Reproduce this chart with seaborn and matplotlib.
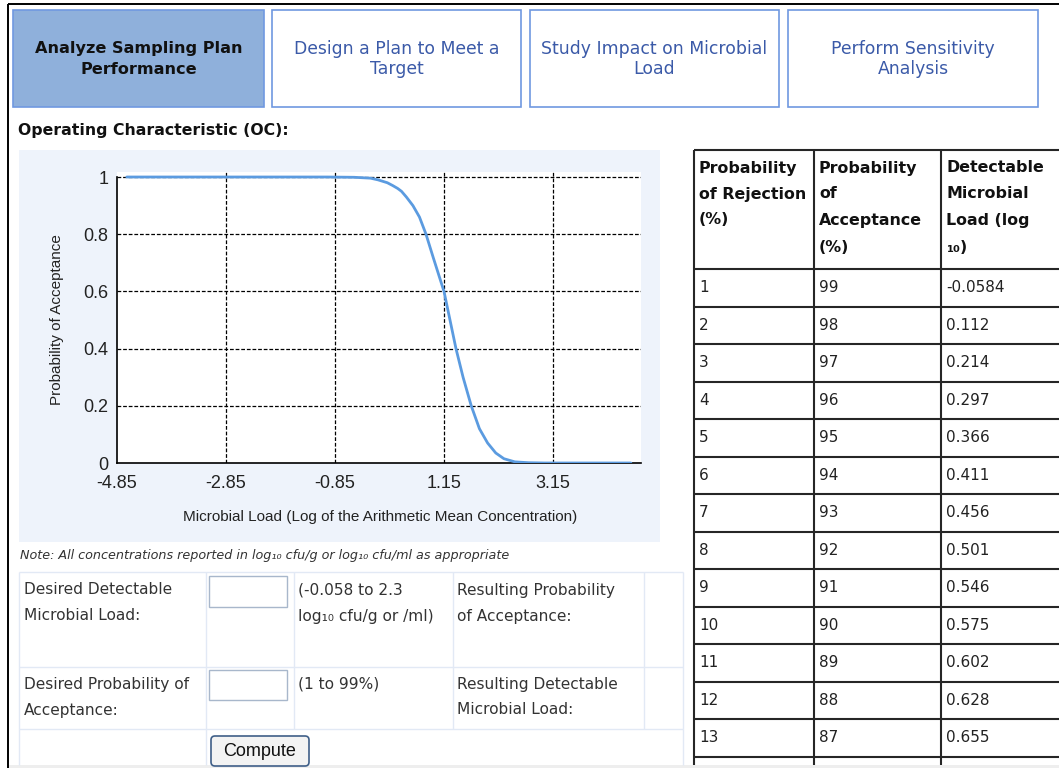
import matplotlib
matplotlib.use("Agg")
import matplotlib.pyplot as plt
import seaborn as sns
from matplotlib.patches import Rectangle, FancyBboxPatch

# OC curve
load_x = [-4.67, -2.0, -1.0, -0.5, -0.2, -0.06, 0.11, 0.21, 0.30, 0.37, 0.46, 0.58, 0.70,
          0.82, 0.95, 1.05, 1.15, 1.26, 1.37, 1.50, 1.65, 1.80, 1.95, 2.10, 2.25, 2.45,
          2.70, 3.00, 4.58]
p_accept = [1.0, 1.0, 1.0, 0.999, 0.996, 0.99, 0.98, 0.97, 0.96, 0.95, 0.93, 0.90, 0.86,
            0.80, 0.72, 0.66, 0.60, 0.50, 0.40, 0.30, 0.20, 0.12, 0.07, 0.035, 0.015, 0.004,
            0.001, 0.0, 0.0]

x_ticks = [-4.85, -2.85, -0.85, 1.15, 3.15]
x_tick_labels = ['-4.85', '-2.85', '-0.85', '1.15', '3.15']
y_ticks = [0, 0.2, 0.4, 0.6, 0.8, 1.0]
y_tick_labels = ['0', '0.2', '0.4', '0.6', '0.8', '1']

# table on the right
reject_pct = [1, 2, 3, 4, 5, 6, 7, 8, 9, 10, 11, 12, 13]
accept_pct = [99, 98, 97, 96, 95, 94, 93, 92, 91, 90, 89, 88, 87]
detect_load = ['-0.0584', '0.112', '0.214', '0.297', '0.366', '0.411', '0.456',
               '0.501', '0.546', '0.575', '0.602', '0.628', '0.655']

tabs = ['Analyze Sampling Plan\nPerformance', 'Design a Plan to Meet a\nTarget',
        'Study Impact on Microbial\nLoad', 'Perform Sensitivity\nAnalysis']

sns.set_style("white")
plt.rcParams['font.family'] = ['DejaVu Sans']

W, H = 1059, 768
fig = plt.figure(figsize=(W / 100, H / 100), dpi=100)

# page layer in pixel coords
bg = fig.add_axes([0, 0, 1, 1])
bg.set_xlim(0, W)
bg.set_ylim(H, 0)
bg.axis('off')

def box(x0, y0, x1, y1, fc='none', ec='none', lw=1.0, z=1):
    bg.add_patch(Rectangle((x0, y0), x1 - x0, y1 - y0, facecolor=fc, edgecolor=ec, lw=lw, zorder=z))

def hline(y, x0, x1, c, lw=1.0):
    bg.plot([x0, x1], [y, y], color=c, lw=lw, solid_capstyle='butt')

def vline(x, y0, y1, c, lw=1.0):
    bg.plot([x, x], [y0, y1], color=c, lw=lw, solid_capstyle='butt')

# page border + bottom band
hline(4, 8, W, 'black', 1.4)
vline(8, 4, H, 'black', 1.4)
box(9, 765, W, H, fc='#eeeeee')

# tabs
tab_x = [(13, 264), (272, 521), (530, 779), (788, 1038)]
for i, (label, (x0, x1)) in enumerate(zip(tabs, tab_x)):
    active = i == 0
    box(x0, 10, x1, 107, fc='#8fb0db' if active else 'white', ec='#7098e0', lw=1.2)
    l1, l2 = label.split('\n')
    for yy, t in ((49, l1), (69, l2)):
        bg.text((x0 + x1) / 2, yy, t, ha='center', va='center',
                fontsize=11.6 if active else 12.4,
                fontweight='bold' if active else 'normal',
                color='#111111' if active else '#3b5aa8')

bg.text(18, 130, 'Operating Characteristic (OC):', ha='left', va='center',
        fontsize=11.3, fontweight='bold', color='#111111')

# chart panel
box(19, 150, 660, 542, fc='#eef3fb')

bg.text(20, 556, 'Note: All concentrations reported in log\u2081\u2080 cfu/g or log\u2081\u2080 cfu/ml as appropriate',
        ha='left', va='center', fontsize=9.2, style='italic', color='#333333')

# form grid
gc = '#e2e9f5'
for yy in (572, 667, 729):
    hline(yy, 19, 683, gc)
for xx in (19, 206, 294, 453, 644, 683):
    vline(xx, 572, 729, gc)
for xx in (19, 206, 683):
    vline(xx, 729, 765, gc)

box(209, 576, 287, 607, fc='white', ec='#a8b7cb')
box(209, 670, 287, 700, fc='white', ec='#a8b7cb')
bg.add_patch(FancyBboxPatch((211, 736), 98, 30, boxstyle='round,pad=0,rounding_size=4',
                            facecolor='#f3f3f3', edgecolor='#3f5f88', lw=1.2, zorder=2))
bg.text(260, 751, 'Compute', ha='center', va='center', fontsize=13,
        family='Liberation Sans', color='#111111', zorder=3)

form_text = [
    (24, 590, 'Desired Detectable'), (24, 616, 'Microbial Load:'),
    (298, 590, '(-0.058 to 2.3'), (298, 616, 'log\u2081\u2080 cfu/g or /ml)'),
    (457, 590, 'Resulting Probability'), (457, 616, 'of Acceptance:'),
    (24, 684, 'Desired Probability of'), (24, 710, 'Acceptance:'),
    (298, 684, '(1 to 99%)'),
    (457, 684, 'Resulting Detectable'), (457, 710, 'Microbial Load:'),
]
for xx, yy, t in form_text:
    bg.text(xx, yy, t, ha='left', va='center', fontsize=11.1, color='#333333')

# results table
tc = '#262626'
col_x = [694, 814, 941]
row_top = 269
row_h = 37.5
hline(150, 694, W, tc, 1.5)
hline(row_top, 694, W, tc, 1.5)
for k in range(1, len(reject_pct) + 1):
    hline(row_top + k * row_h, 694, W, tc, 1.5)
for xx in col_x:
    vline(xx, 150, 765, tc, 1.5)

headers = [['Probability', 'of Rejection', '(%)'],
           ['Probability', 'of', 'Acceptance', '(%)'],
           ['Detectable', 'Microbial', 'Load (log', '\u2081\u2080)']]
head_y = [168, 194, 220, 247]
for xx, lines in zip(col_x, headers):
    for yy, t in zip(head_y, lines):
        bg.text(xx + 5, yy, t, ha='left', va='center', fontsize=11.4,
                fontweight='bold', color='#111111')

for k, (r, a, d) in enumerate(zip(reject_pct, accept_pct, detect_load)):
    yy = row_top + (k + 0.5) * row_h
    for xx, t in zip(col_x, (str(r), str(a), d)):
        bg.text(xx + 5, yy, t, ha='left', va='center', fontsize=11, color='#222222')

# the OC chart itself
px_left, px_right, px_top, px_bot = 117, 641, 172, 463
ax = fig.add_axes([px_left / W, (H - px_bot) / H, (px_right - px_left) / W, (px_bot - px_top) / H])
ax.set_facecolor('white')
sns.lineplot(x=load_x, y=p_accept, ax=ax, color='#5b9be0', lw=2.0, zorder=5)
ax.set_xlim(-4.85, 4.765)
ax.set_ylim(0, 1.0175)
ax.set_xticks(x_ticks)
ax.set_xticklabels(x_tick_labels)
ax.set_yticks(y_ticks)
ax.set_yticklabels(y_tick_labels)
for v in x_ticks[1:]:
    ax.axvline(v, color='black', lw=0.9, ls=(0, (3, 1.5)), zorder=1)
for v in y_ticks[1:]:
    ax.axhline(v, color='black', lw=0.9, ls=(0, (3, 1.5)), zorder=1)
for s in ('top', 'right'):
    ax.spines[s].set_visible(False)
ax.spines['left'].set_bounds(0, 1)
for s in ('left', 'bottom'):
    ax.spines[s].set_color('black')
    ax.spines[s].set_linewidth(1.2)
ax.tick_params(axis='both', direction='out', length=5, width=1, color='black',
               labelsize=13, labelcolor='#222222')
ax.tick_params(axis='y', pad=1)
ax.tick_params(axis='x', pad=4)
for lab in ax.get_xticklabels() + ax.get_yticklabels():
    lab.set_family('Liberation Sans')

ax.set_xlabel('Microbial Load (Log of the Arithmetic Mean Concentration)',
              family='Liberation Sans', fontsize=11, color='#222222')
ax.set_ylabel('Probability of Acceptance', family='Liberation Sans', fontsize=11, color='#222222')
ax.xaxis.set_label_coords((380 - px_left) / (px_right - px_left), -(517 - px_bot) / (px_bot - px_top))
ax.yaxis.set_label_coords((57 - px_left) / (px_right - px_left), (px_bot - 320) / (px_bot - px_top))
ax.xaxis.label.set_va('center')
ax.yaxis.label.set_va('center')

fig.savefig('out.png', dpi=100)
